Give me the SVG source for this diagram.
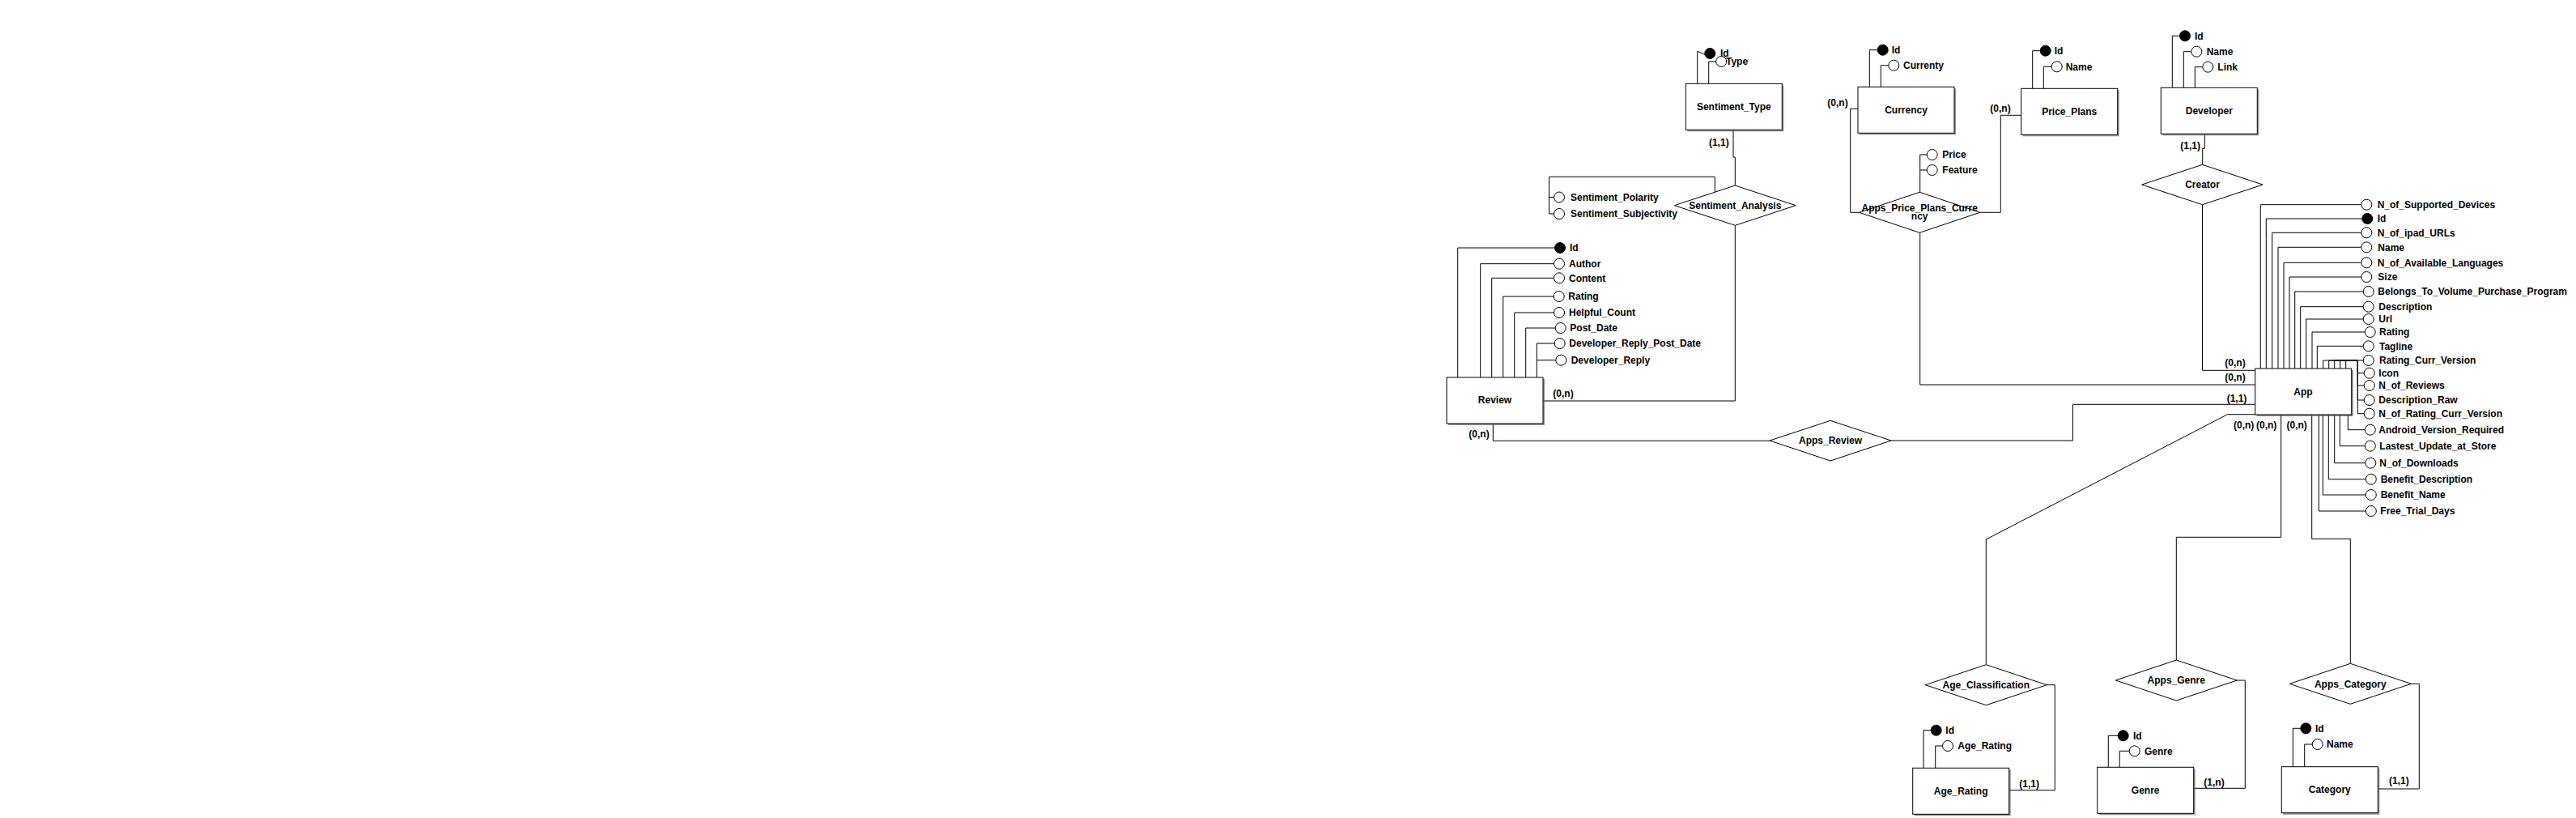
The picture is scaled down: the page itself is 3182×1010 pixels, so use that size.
<svg xmlns="http://www.w3.org/2000/svg" width="3182" height="1010" viewBox="0 0 3182 1010">
<style>
text{font-family:"Liberation Sans",Arial,sans-serif;font-weight:bold;font-size:12px;fill:#000}
.c{text-anchor:middle}
.ent{fill:#fff;stroke:#000;stroke-width:1}
.sh{fill:#666;opacity:0.7}
.rel{fill:#fff;stroke:#000;stroke-width:1}
.a{fill:#fff;stroke:#000;stroke-width:1}
.k{fill:#000;stroke:#000;stroke-width:1}
#connectors path{fill:none;stroke:#000;stroke-width:1}
</style>
<rect width="3182" height="1010" fill="#fff"/>
<g id="connectors">
<!-- Review attributes -->
<path d="M1800.7,466 V306 H1920.5"/>
<path d="M1828.7,466 V325.7 H1919.5"/>
<path d="M1842.7,466 V343.3 H1919.5"/>
<path d="M1856.7,466 V366 H1919.2"/>
<path d="M1870.7,466 V386 H1919.5"/>
<path d="M1884.7,466 V405 H1921.2"/>
<path d="M1898.3,466 V424 H1920.2"/>
<path d="M1898.3,444.7 H1921.8"/>
<!-- Review - Sentiment_Analysis -->
<path d="M1906,495 H2143.3 V278.3"/>
<!-- Sentiment_Type - Sentiment_Analysis -->
<path d="M2141,160 V194 H2143.3 V229"/>
<!-- Sentiment_Type attributes -->
<path d="M2096.7,103.3 V63.3 L2106,67.5"/>
<path d="M2110.7,103.3 V76 H2119.7"/>
<!-- Sentiment_Analysis attributes -->
<path d="M2118.3,237.2 V218.3 H1913.5 V264 H1919.5"/>
<path d="M1913.5,243.5 H1919.5"/>
<!-- Currency attributes -->
<path d="M2309.3,107.3 V61.7 H2319.2"/>
<path d="M2323.3,107.3 V80.7 H2332.8"/>
<!-- Price_Plans attributes -->
<path d="M2510.7,109.3 V62.7 H2520.2"/>
<path d="M2524.3,109.3 V82.3 H2534.2"/>
<!-- APPC attributes -->
<path d="M2371.7,237.3 V191 H2380.2"/>
<path d="M2371.7,210 H2380.2"/>
<!-- Currency / Price_Plans - APPC -->
<path d="M2295,134.3 H2285.7 V262.3 H2296.7"/>
<path d="M2496.7,142.3 H2471.3 V262.3 H2445.7"/>
<!-- APPC - App -->
<path d="M2371.7,287.3 V475 H2785.7"/>
<!-- Developer attributes -->
<path d="M2683.3,108.3 V44.3 H2692.5"/>
<path d="M2697.3,108.3 V63.7 H2706.8"/>
<path d="M2711.3,108.3 V82.7 H2720.8"/>
<!-- Developer - Creator - App -->
<path d="M2723.3,165.7 V183.3 H2720.7 V203.3"/>
<path d="M2720.5,252.7 V457.3 H2785.7"/>
<!-- Review - Apps_Review - App -->
<path d="M1844.3,522.3 V544.3 H2186"/>
<path d="M2336,544 H2560.5 V499.3 H2785.7"/>
<!-- App attributes top -->
<path d="M2792.3,455 V252.7 H2916.8"/>
<path d="M2799.3,455 V270 H2917.8"/>
<path d="M2806.7,455 V287.3 H2916.8"/>
<path d="M2814,455 V305.3 H2916.8"/>
<path d="M2821,455 V324.3 H2916.8"/>
<path d="M2828,455 V342 H2916.8"/>
<path d="M2834.7,455 V360 H2919.2"/>
<path d="M2841.7,455 V378.7 H2919.2"/>
<path d="M2848.7,455 V394 H2919.2"/>
<path d="M2856,455 V410 H2921.2"/>
<path d="M2862.3,455 V427.3 H2919.2"/>
<path d="M2869.7,455 V445 H2919.2"/>
<path d="M2876.7,455 V445 H2912.3 V460.7 H2920.2"/>
<path d="M2883.7,455 V445 H2912.3 V476 H2920.2"/>
<path d="M2890.7,455 V445 H2912.3 V494 H2920.2"/>
<path d="M2897.7,455 V445 H2912.3 V510.7 H2920.2"/>
<!-- App attributes bottom -->
<path d="M2900.3,511.7 V530.7 H2921.3"/>
<path d="M2890.3,511.7 V550.7 H2921.3"/>
<path d="M2883.7,511.7 V571.7 H2921.8"/>
<path d="M2876.3,511.7 V591.7 H2922.3"/>
<path d="M2869.3,511.7 V611 H2922.3"/>
<path d="M2864.3,511.7 V631 H2922.3"/>
<!-- App - bottom relationships -->
<path d="M2786,511.7 H2751.5 L2453.3,666 V820.7"/>
<path d="M2817.7,511.7 V663.3 H2688.3 V815"/>
<path d="M2855.7,511.7 V665.3 H2903.3 V819.3"/>
<!-- bottom relationships - entities -->
<path d="M2528.3,845.7 H2538.3 V975.7 H2481.7"/>
<path d="M2763.3,840 H2773.3 V973.3 H2710"/>
<path d="M2978.3,844.3 H2988.3 V974 H2937.3"/>
<!-- bottom entity attributes -->
<path d="M2376,948.3 V901.7 H2385.2"/>
<path d="M2390.7,948.3 V921 H2399.5"/>
<path d="M2604.3,947.3 V908.3 H2616.2"/>
<path d="M2618.3,947.3 V927.3 H2630.2"/>
<path d="M2832.3,946.7 V899.3 H2841.8"/>
<path d="M2846.7,946.7 V919 H2856.2"/>
</g>
<g id="cardinalities">
<text class="c" x="1931" y="490">(0,n)</text>
<text class="c" x="1827" y="540">(0,n)</text>
<text class="c" x="2123.3" y="180">(1,1)</text>
<text class="c" x="2270" y="131">(0,n)</text>
<text class="c" x="2471" y="138">(0,n)</text>
<text class="c" x="2705.7" y="184">(1,1)</text>
<text class="c" x="2761" y="452">(0,n)</text>
<text class="c" x="2761" y="470">(0,n)</text>
<text class="c" x="2763" y="496">(1,1)</text>
<text class="c" x="2771.7" y="529">(0,n)</text>
<text class="c" x="2799.7" y="529">(0,n)</text>
<text class="c" x="2837.2" y="529">(0,n)</text>
<text class="c" x="2506.7" y="972">(1,1)</text>
<text class="c" x="2735" y="970">(1,n)</text>
<text class="c" x="2963.3" y="968">(1,1)</text>
</g>
<!-- Entities -->
<g id="review"><rect class="sh" x="1789" y="468" width="119" height="57"/><rect class="ent" x="1787" y="466" width="119" height="57"/><text class="c" x="1846.5" y="498">Review</text></g>
<g id="sentiment_type"><rect class="sh" x="2084.3" y="105.3" width="119" height="57"/><rect class="ent" x="2082.3" y="103.3" width="119" height="57"/><text class="c" x="2141.8" y="136">Sentiment_Type</text></g>
<g id="currency"><rect class="sh" x="2297" y="109.3" width="119" height="57"/><rect class="ent" x="2295" y="107.3" width="119" height="57"/><text class="c" x="2354.5" y="140">Currency</text></g>
<g id="price_plans"><rect class="sh" x="2498.7" y="111.3" width="119" height="57"/><rect class="ent" x="2496.7" y="109.3" width="119" height="57"/><text class="c" x="2556.2" y="142">Price_Plans</text></g>
<g id="developer"><rect class="sh" x="2671.3" y="110.3" width="119" height="57"/><rect class="ent" x="2669.3" y="108.3" width="119" height="57"/><text class="c" x="2728.8" y="141">Developer</text></g>
<g id="app"><rect class="sh" x="2787.7" y="457" width="119" height="57"/><rect class="ent" x="2785.7" y="455" width="119" height="57"/><text class="c" x="2845" y="487.5">App</text></g>
<g id="age_rating"><rect class="sh" x="2364.7" y="950.3" width="119" height="57"/><rect class="ent" x="2362.7" y="948.3" width="119" height="57"/><text class="c" x="2422.2" y="981">Age_Rating</text></g>
<g id="genre"><rect class="sh" x="2592.7" y="949.3" width="119" height="57"/><rect class="ent" x="2590.7" y="947.3" width="119" height="57"/><text class="c" x="2650.2" y="980">Genre</text></g>
<g id="category"><rect class="sh" x="2820.3" y="948.7" width="119" height="57"/><rect class="ent" x="2818.3" y="946.7" width="119" height="57"/><text class="c" x="2877.8" y="979">Category</text></g>
<!-- Relationships -->
<g id="sentiment_analysis"><polygon class="rel" points="2143.3,229 2218.3,253.7 2143.3,278.3 2068.3,253.7"/><text class="c" x="2143.3" y="258">Sentiment_Analysis</text></g>
<g id="apps_price_plans_currency"><polygon class="rel" points="2371.2,237.3 2445.7,262.3 2371.2,287.3 2296.7,262.3"/><text class="c" x="2371.2" y="260.5">Apps_Price_Plans_Curre</text><text class="c" x="2371.2" y="271">ncy</text></g>
<g id="creator"><polygon class="rel" points="2720.5,203.3 2795,228 2720.5,252.7 2645.7,228"/><text class="c" x="2720.5" y="232.3">Creator</text></g>
<g id="apps_review"><polygon class="rel" points="2261,519.3 2336,544 2261,569 2186,544"/><text class="c" x="2261" y="548.3">Apps_Review</text></g>
<g id="age_classification"><polygon class="rel" points="2453.3,820.7 2528.3,845.7 2453.3,870.7 2378.3,845.7"/><text class="c" x="2453.3" y="850">Age_Classification</text></g>
<g id="apps_genre"><polygon class="rel" points="2688.3,815 2763.3,840 2688.3,865 2613.3,840"/><text class="c" x="2688.3" y="844.3">Apps_Genre</text></g>
<g id="apps_category"><polygon class="rel" points="2903.3,819.3 2978.3,844.3 2903.3,869.3 2828.3,844.3"/><text class="c" x="2903.3" y="848.6">Apps_Category</text></g>
<!-- Attributes: Review -->
<g id="review_id"><circle class="k" cx="1927" cy="306" r="6.5"/><text x="1939" y="310.3">Id</text></g>
<g id="review_author"><circle class="a" cx="1926" cy="325.7" r="6.5"/><text x="1938" y="330">Author</text></g>
<g id="review_content"><circle class="a" cx="1926" cy="343.3" r="6.5"/><text x="1938" y="347.6">Content</text></g>
<g id="review_rating"><circle class="a" cx="1925.7" cy="366" r="6.5"/><text x="1937.3" y="370.3">Rating</text></g>
<g id="review_helpful_count"><circle class="a" cx="1926" cy="386" r="6.5"/><text x="1938" y="390.3">Helpful_Count</text></g>
<g id="review_post_date"><circle class="a" cx="1927.7" cy="405" r="6.5"/><text x="1939.3" y="409.3">Post_Date</text></g>
<g id="review_dev_reply_post_date"><circle class="a" cx="1926.7" cy="424" r="6.5"/><text x="1938.3" y="428.3">Developer_Reply_Post_Date</text></g>
<g id="review_dev_reply"><circle class="a" cx="1928.3" cy="444.7" r="6.5"/><text x="1940.7" y="449">Developer_Reply</text></g>
<!-- Sentiment -->
<g id="st_id"><circle class="k" cx="2112.3" cy="66" r="6.5"/><text x="2125" y="70">Id</text></g>
<g id="st_type"><circle class="a" cx="2126.2" cy="76" r="6.5"/><text x="2132" y="80.3">Type</text></g>
<g id="sa_polarity"><circle class="a" cx="1926" cy="243.5" r="6.5"/><text x="1940" y="247.8">Sentiment_Polarity</text></g>
<g id="sa_subjectivity"><circle class="a" cx="1926" cy="264" r="6.5"/><text x="1940" y="268.3">Sentiment_Subjectivity</text></g>
<!-- Currency / Price plans -->
<g id="cur_id"><circle class="k" cx="2325.7" cy="61.7" r="6.5"/><text x="2336.7" y="66">Id</text></g>
<g id="cur_currenty"><circle class="a" cx="2339.3" cy="80.7" r="6.5"/><text x="2351" y="85">Currenty</text></g>
<g id="pp_id"><circle class="k" cx="2526.7" cy="62.7" r="6.5"/><text x="2537.7" y="67">Id</text></g>
<g id="pp_name"><circle class="a" cx="2540.7" cy="82.3" r="6.5"/><text x="2551.7" y="86.6">Name</text></g>
<g id="appc_price"><circle class="a" cx="2386.7" cy="191" r="6.5"/><text x="2399.3" y="195.3">Price</text></g>
<g id="appc_feature"><circle class="a" cx="2386.7" cy="210" r="6.5"/><text x="2399.3" y="214.3">Feature</text></g>
<!-- Developer -->
<g id="dev_id"><circle class="k" cx="2699" cy="44.3" r="6.5"/><text x="2711" y="48.6">Id</text></g>
<g id="dev_name"><circle class="a" cx="2713.3" cy="63.7" r="6.5"/><text x="2725.7" y="68">Name</text></g>
<g id="dev_link"><circle class="a" cx="2727.3" cy="82.7" r="6.5"/><text x="2739.3" y="87">Link</text></g>
<!-- App -->
<g id="app_n_supported_devices"><circle class="a" cx="2923.3" cy="252.7" r="6.5"/><text x="2936.7" y="257">N_of_Supported_Devices</text></g>
<g id="app_id"><circle class="k" cx="2924.3" cy="270" r="6.5"/><text x="2936.7" y="274.3">Id</text></g>
<g id="app_n_ipad_urls"><circle class="a" cx="2923.3" cy="287.3" r="6.5"/><text x="2936.7" y="291.6">N_of_ipad_URLs</text></g>
<g id="app_name"><circle class="a" cx="2923.3" cy="305.3" r="6.5"/><text x="2937.3" y="309.6">Name</text></g>
<g id="app_n_languages"><circle class="a" cx="2923.3" cy="324.3" r="6.5"/><text x="2936.7" y="328.6">N_of_Available_Languages</text></g>
<g id="app_size"><circle class="a" cx="2923.3" cy="342" r="6.5"/><text x="2937.3" y="346.3">Size</text></g>
<g id="app_vpp"><circle class="a" cx="2925.7" cy="360" r="6.5"/><text x="2937.3" y="364.3">Belongs_To_Volume_Purchase_Program</text></g>
<g id="app_description"><circle class="a" cx="2925.7" cy="378.7" r="6.5"/><text x="2938.3" y="383">Description</text></g>
<g id="app_url"><circle class="a" cx="2925.7" cy="394" r="6.5"/><text x="2938.3" y="398.3">Url</text></g>
<g id="app_rating"><circle class="a" cx="2927.7" cy="410" r="6.5"/><text x="2939" y="414.3">Rating</text></g>
<g id="app_tagline"><circle class="a" cx="2925.7" cy="427.3" r="6.5"/><text x="2939" y="431.6">Tagline</text></g>
<g id="app_rating_curr_version"><circle class="a" cx="2925.7" cy="445" r="6.5"/><text x="2939" y="449.3">Rating_Curr_Version</text></g>
<g id="app_icon"><circle class="a" cx="2926.7" cy="460.7" r="6.5"/><text x="2938.3" y="465">Icon</text></g>
<g id="app_n_reviews"><circle class="a" cx="2926.7" cy="476" r="6.5"/><text x="2938.3" y="480.3">N_of_Reviews</text></g>
<g id="app_description_raw"><circle class="a" cx="2926.7" cy="494" r="6.5"/><text x="2938.3" y="498.3">Description_Raw</text></g>
<g id="app_n_rating_curr_version"><circle class="a" cx="2926.7" cy="510.7" r="6.5"/><text x="2938.3" y="515">N_of_Rating_Curr_Version</text></g>
<g id="app_android_version"><circle class="a" cx="2927.8" cy="530.7" r="6.5"/><text x="2938.3" y="535">Android_Version_Required</text></g>
<g id="app_latest_update"><circle class="a" cx="2927.8" cy="550.7" r="6.5"/><text x="2939.3" y="555">Lastest_Update_at_Store</text></g>
<g id="app_n_downloads"><circle class="a" cx="2928.3" cy="571.7" r="6.5"/><text x="2939.3" y="576">N_of_Downloads</text></g>
<g id="app_benefit_description"><circle class="a" cx="2928.8" cy="591.7" r="6.5"/><text x="2940.7" y="596">Benefit_Description</text></g>
<g id="app_benefit_name"><circle class="a" cx="2928.8" cy="611" r="6.5"/><text x="2940.7" y="615.3">Benefit_Name</text></g>
<g id="app_free_trial_days"><circle class="a" cx="2928.8" cy="631" r="6.5"/><text x="2940.3" y="635.3">Free_Trial_Days</text></g>
<!-- Bottom entities attributes -->
<g id="ar_id"><circle class="k" cx="2391.7" cy="901.7" r="6.5"/><text x="2403.3" y="906">Id</text></g>
<g id="ar_age_rating"><circle class="a" cx="2406" cy="921" r="6.5"/><text x="2418.3" y="925.3">Age_Rating</text></g>
<g id="genre_id"><circle class="k" cx="2622.7" cy="908.3" r="6.5"/><text x="2635" y="912.6">Id</text></g>
<g id="genre_genre"><circle class="a" cx="2636.7" cy="927.3" r="6.5"/><text x="2649" y="931.6">Genre</text></g>
<g id="cat_id"><circle class="k" cx="2848.3" cy="899.3" r="6.5"/><text x="2860" y="903.6">Id</text></g>
<g id="cat_name"><circle class="a" cx="2862.7" cy="919" r="6.5"/><text x="2874" y="923.3">Name</text></g>
</svg>
